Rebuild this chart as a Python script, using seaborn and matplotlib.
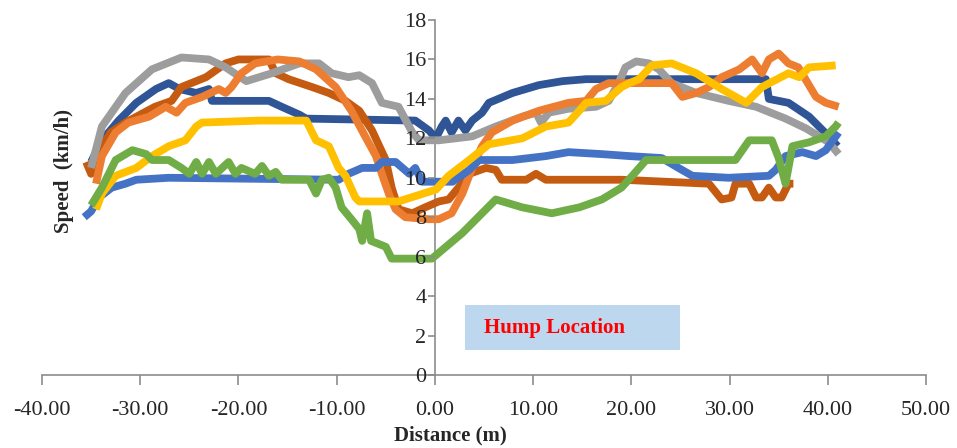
import numpy as np
import pandas as pd
import matplotlib
matplotlib.use("Agg")
import matplotlib.pyplot as plt
import seaborn as sns
from matplotlib.patches import Rectangle

# Speed profiles (km/h) against distance from the hump (m)
x_darkblue = [-35, -33.9, -32.2, -30.4, -28.4, -27.1, -26, -24.3, -23, -22.7, -21.7, -16.9, -15.6, -13.8,
              -13.1, -2, -0.6, 0.1, 0.7, 1.1, 1.7, 2.4, 3.1, 3.8, 4.8, 5.5, 7.9, 10.6, 13, 15.4, 33.7, 34,
              36, 38.1, 40.1, 41]
y_darkblue = [10.8, 11.9, 12.9, 13.8, 14.5, 14.8, 14.5, 14.3, 14.5, 13.9, 13.9, 13.9, 13.6, 13.2,
              13.0, 12.9, 12.4, 12.0, 12.6, 12.9, 12.3, 12.9, 12.4, 12.9, 13.3, 13.8, 14.3, 14.7, 14.9, 15.0, 15.0, 14.0,
              13.8, 13.1, 12.1, 11.6]

x_brown = [-35.5, -35, -34, -33, -31.5, -30, -28.5, -26.8, -25.8, -23.3, -21.3, -20, -16.9, -16.2, -14.9,
           -12.5, -10.8, -9.1, -7.7, -6.4, -5, -4.4, -3.7, -2.3, -1, 0.4, 1.4, 2.4, 3.5, 5.2, 6.2, 6.8, 9.3,
           10.3, 11.3, 19, 27.9, 29.2, 30.2, 30.6, 32, 32.7, 33.3, 34, 34.7, 35.3, 36, 36.5]
y_brown = [10.8, 10.2, 11.5, 12.3, 12.8, 13.2, 13.6, 13.9, 14.6, 15.1, 15.8, 16.0, 16.0, 15.3, 15.0,
           14.6, 14.3, 13.9, 13.4, 12.4, 10.9, 9.5, 8.4, 8.2, 8.5, 8.8, 8.9, 9.5, 10.2, 10.5, 10.4, 9.9, 9.9,
           10.2, 9.9, 9.9, 9.7, 8.9, 9.0, 9.7, 9.7, 9.0, 9.0, 9.5, 9.0, 9.0, 9.7, 9.7]

x_gray = [-35, -33.9, -31.5, -28.8, -25.8, -23, -21.3, -19.2, -16.6, -13.8, -11.8, -10.5, -8.8, -7.7,
          -6.4, -5.4, -3.7, -2.3, -1.6, 0.4, 3.8, 6.2, 8.9, 10.3, 10.8, 11.6, 13.6, 16.4, 17.7, 18.7, 19.4,
          20.5, 21.8, 22.8, 24.1, 26.6, 29.9, 32.7, 35.7, 37.8, 40.1, 41.1]
y_gray = [10.5, 12.6, 14.3, 15.5, 16.1, 16.0, 15.6, 14.9, 15.3, 15.8, 15.8, 15.3, 15.1, 15.2,
          14.8, 13.8, 13.6, 12.3, 11.9, 11.9, 12.1, 12.6, 13.1, 13.3, 12.8, 13.3, 13.5, 13.6, 13.9, 14.8, 15.6,
          15.9, 15.8, 15.5, 14.8, 14.3, 13.9, 13.6, 13.0, 12.5, 11.8, 11.2]

x_orange = [-34.5, -33.9, -32.5, -31.2, -29.1, -27.4, -26.3, -25.4, -23.7, -22, -21.3, -20.7, -19.7,
            -18.3, -16, -13.8, -12.1, -10.1, -8.5, -7.1, -6, -5.4, -4.7, -4, -3, -0.6, 0.4, 1.7, 2.8, 3.8,
            4.8, 5.8, 7.9, 10.6, 13.6, 15.4, 16.4, 17.7, 24.1, 25.2, 26.6, 27.9, 29.2, 31, 32.3, 33.3, 34,
            35, 36, 37, 38.8, 39.8, 41.1]
y_orange = [9.7, 11.1, 12.3, 12.8, 13.1, 13.6, 13.3, 13.8, 14.1, 14.5, 14.3, 14.6, 15.3,
            15.8, 16.0, 15.9, 15.5, 14.6, 13.4, 12.1, 11.1, 10.2, 9.2, 8.4, 8.0, 7.9, 7.9, 8.2, 9.2, 10.5,
            11.6, 12.3, 12.9, 13.4, 13.8, 13.9, 14.5, 14.8, 14.8, 14.1, 14.3, 14.6, 15.1, 15.5, 16.0, 15.3, 16.0,
            16.3, 15.8, 15.6, 14.1, 13.8, 13.6]

x_yellow = [-34.5, -33.9, -32.5, -30.4, -28.8, -27.1, -25.4, -24.3, -23.7, -17.9, -13.1, -12.1, -10.8,
            -9.8, -9.1, -8.1, -7.7, -3.7, 0.1, 1.4, 3.5, 5.5, 8.9, 11.3, 13.6, 14.7, 15.4, 17.4, 19, 19.8,
            20.8, 22.1, 24.1, 26.6, 29.2, 31.7, 33.3, 36, 37.1, 38.1, 40.8]
y_yellow = [8.4, 9.2, 10.1, 10.5, 11.1, 11.6, 11.9, 12.6, 12.8, 12.9, 12.9, 11.9, 11.6,
            10.5, 10.1, 9.0, 8.8, 8.8, 9.4, 10.1, 10.9, 11.7, 12.0, 12.6, 12.8, 13.4, 13.8, 13.9, 14.6, 14.8,
            15.0, 15.7, 15.8, 15.3, 14.5, 13.8, 14.6, 15.3, 15.1, 15.6, 15.7]

x_green = [-35, -33.9, -32.5, -30.8, -29.4, -28.8, -27.1, -25.8, -25, -24.3, -23.7, -23, -22.3, -21,
           -20.3, -19.7, -18.3, -17.6, -16.9, -16.2, -15.6, -12.8, -12.1, -11.5, -10.8, -10.1, -9.5, -8.5,
           -7.7, -7.4, -6.9, -6.5, -5, -4.4, -0.3, 2.8, 6.2, 8.9, 11.9, 14.7, 17, 19, 20.1, 20.8, 21.5,
           30.6, 32, 34.3, 35, 35.7, 36.4, 38.1, 39.8, 40.8, 41.1]
y_green = [8.6, 9.5, 10.9, 11.4, 11.2, 10.9, 10.9, 10.5, 10.2, 10.8, 10.2, 10.8, 10.2, 10.8,
           10.2, 10.5, 10.2, 10.6, 10.1, 10.3, 9.9, 9.9, 9.2, 9.9, 10.0, 9.5, 8.5, 7.9,
           7.4, 6.8, 8.2, 6.8, 6.5, 5.9, 5.9, 7.2, 8.9, 8.5, 8.2, 8.5, 8.9, 9.5, 10.1, 10.5, 10.9,
           10.9, 11.9, 11.9, 11.0, 9.7, 11.6, 11.8, 12.1, 12.6, 12.8]

x_blue = [-35.7, -35, -34.2, -32.9, -31.5, -30.4, -27.1, -9.8, -8.8, -7.4, -6, -5.4, -4, -2.6, -2, -1.3,
          1.8, 3.5, 4.5, 7.9, 11.3, 13.6, 17, 19.8, 23.1, 24.8, 26.2, 29.9, 34, 34.7, 35.7, 37.4, 38.8,
          39.8, 41.1]
y_blue = [8.0, 8.3, 9.0, 9.5, 9.7, 9.9, 10.0, 9.9, 10.2, 10.5, 10.5, 10.8, 10.8, 10.2, 10.5, 9.8,
          9.8, 10.4, 10.9, 10.9, 11.1, 11.3, 11.2, 11.1, 11.0, 10.5, 10.1, 10.0, 10.1, 10.4, 11.1, 11.3, 11.1,
          11.4, 12.3]

x_ticks = [-40, -30, -20, -10, 0, 10, 20, 30, 40, 50]
y_ticks = [0, 2, 4, 6, 8, 10, 12, 14, 16, 18]

series = [
    ("Run 1", x_darkblue, y_darkblue, "#2F5597"),
    ("Run 2", x_brown, y_brown, "#C55A11"),
    ("Run 3", x_gray, y_gray, "#9D9D9D"),
    ("Run 4", x_orange, y_orange, "#ED7D31"),
    ("Run 5", x_blue, y_blue, "#4472C4"),
    ("Run 6", x_yellow, y_yellow, "#FFC000"),
    ("Run 7", x_green, y_green, "#70AD47"),
]

frames = [pd.DataFrame({"Distance": xs, "Speed": ys, "Run": name}) for name, xs, ys, _ in series]
df = pd.concat(frames, ignore_index=True)
palette = {name: c for name, _, _, c in series}

sns.set_theme(style="white")
plt.rcParams["font.family"] = ["Liberation Serif", "DejaVu Serif"]
plt.rcParams["axes.unicode_minus"] = False

fig = plt.figure(figsize=(9.57, 4.48), dpi=100)
ax = fig.add_axes([42 / 957, 73 / 448, 884 / 957, 355 / 448])

sns.lineplot(data=df, x="Distance", y="Speed", hue="Run", palette=palette,
             estimator=None, sort=False, linewidth=5.6, legend=False, ax=ax,
             solid_joinstyle="round", solid_capstyle="butt")

ax.set_xlim(-40, 50)
ax.set_ylim(0, 18)
ax.set_xticks(x_ticks)
ax.set_xticklabels([f"{v:.2f}" for v in x_ticks])
ax.set_yticks(y_ticks)
ax.set_yticklabels([str(v) for v in y_ticks])

# tick labels sit above the data lines, axis lines below them
ax.set_axisbelow(False)
for side in ("top", "right"):
    ax.spines[side].set_visible(False)
ax.spines["left"].set_position(("data", 0))
ax.spines["bottom"].set_position(("data", 0))
for side in ("left", "bottom"):
    ax.spines[side].set_color("#8C8C8C")
    ax.spines[side].set_linewidth(1.2)
    ax.spines[side].set_zorder(0.5)

ax.tick_params(axis="x", direction="out", length=7, width=1.2, color="#8C8C8C",
               labelsize=16, pad=12, bottom=True)
ax.tick_params(axis="y", direction="out", length=5, width=1.2, color="#8C8C8C",
               labelsize=16, pad=1, left=True)
ax.set_xlabel("")
ax.set_ylabel("")
ax.grid(False)

# hump marker box
ax.add_patch(Rectangle((3.05, 1.27), 21.9, 2.28, facecolor="#BDD7EE", edgecolor="none", zorder=1))
ax.text(5.0, 2.38, "Hump Location", color="#FF0000", fontsize=15, fontweight="bold",
        va="center", ha="left", zorder=2)

fig.text(64 / 957, 1 - 171 / 448, "Speed  (km/h)", rotation=90, fontsize=15,
         fontweight="bold", ha="center", va="center")
fig.text(450 / 957, 1 - 435 / 448, "Distance (m)", fontsize=15, fontweight="bold",
         ha="center", va="center")

fig.savefig("out.png", dpi=100, facecolor="white")
